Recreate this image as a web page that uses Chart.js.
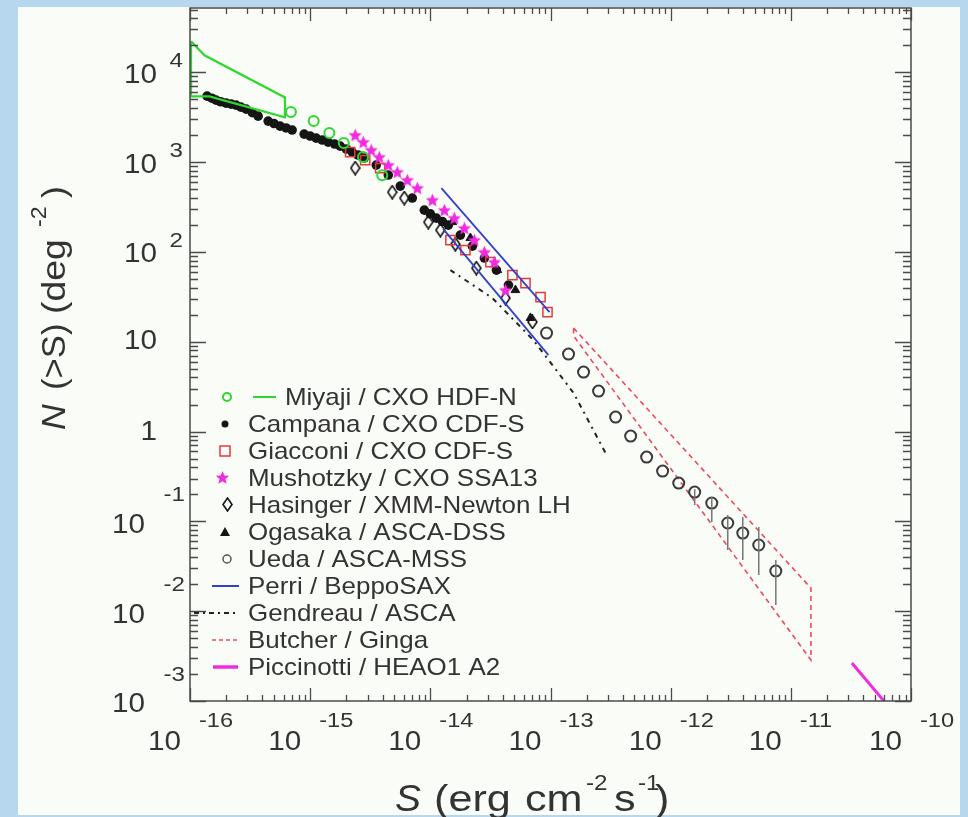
<!DOCTYPE html>
<html><head><meta charset="utf-8">
<script src="https://cdn.jsdelivr.net/npm/chart.js@4.4.1/dist/chart.umd.min.js"></script>
<style>html,body{margin:0;padding:0;background:#b7d7ee;}#wrap{width:968px;height:817px;}</style>
</head><body><div id="wrap"><canvas id="c" width="968" height="817"></canvas></div>
<script>
// ---------- data (S in erg cm^-2 s^-1, N(>S) in deg^-2) ----------
const miyajiS = [6.92e-16, 1.07e-15, 1.445e-15, 1.905e-15, 2.754e-15, 3.98e-15];
const miyajiN = [3606, 2864, 2104, 1629, 1138, 716];
const miyajiBandS = [1.02e-16, 1.32e-16, 6.17e-16, 6.17e-16, 1.45e-16, 1.02e-16, 1.02e-16];
const miyajiBandN = [22230, 15490, 5250, 3160, 5400, 5400, 22230];

const campanaS = [1.387e-16,1.52e-16,1.648e-16,1.8e-16,1.995e-16,2.2e-16,2.415e-16,2.65e-16,2.93e-16,3.3e-16,3.69e-16,4.47e-16,5.0e-16,5.62e-16,6.3e-16,7.08e-16,8.91e-16,
  1.0e-15,1.122e-15,1.26e-15,1.413e-15,1.6e-15,1.778e-15,2.0e-15,2.239e-15,2.5e-15,2.818e-15,3.548e-15,4.467e-15,5.623e-15,7.079e-15,8.913e-15,
  1.0e-14,1.122e-14,1.26e-14,1.413e-14,1.778e-14,2.239e-14,2.818e-14,3.548e-14,4.467e-14];
const campanaN = [5430,5150,4898,4700,4540,4420,4315,4100,3890,3550,3250,2864,2690,2518,2400,2275,2051,
  1950,1849,1760,1671,1590,1507,1400,1294,1200,1109,927,718,541,398,292,
  265,238,218,199,154,116,85.5,62.8,42.8];

const giacconiS = [2.153e-15,2.871e-15,3.828e-15,1.469e-14,1.959e-14,3.162e-14,4.819e-14,6.194e-14,8.26e-14,9.44e-14];
const giacconiN = [1294,1054,859,135.5,105,77.1,55.2,45.0,31.4,21.4];

const mushotzkyS = [2.371e-15,2.767e-15,3.221e-15,3.758e-15,4.467e-15,5.309e-15,6.427e-15,7.798e-15,
  1.04e-14,1.309e-14,1.585e-14,1.919e-14,2.328e-14,2.818e-14,3.412e-14,4.217e-14];
const mushotzkyN = [2000,1671,1361,1138,927,774,631,514,378,292,238,184,135.5,99.5,77.1,37.6];

const hasingerS = [2.371e-15,4.82e-15,6.067e-15,9.616e-15,1.211e-14,1.614e-14,2.415e-14,4.217e-14,7.079e-14];
const hasingerN = [859,463,398,215,175,122,66.1,30.6,16.6];

const ogasakaS = [1.524e-14,2.153e-14,3.614e-14,5.105e-14,6.808e-14];
const ogasakaN = [215,143,62.8,37.6,18.4];

const uedaS = [9.268e-14,1.413e-13,1.884e-13,2.512e-13,3.483e-13,4.645e-13,6.31e-13,8.57e-13,
  1.167e-12,1.585e-12,2.198e-12,2.985e-12,3.981e-12,5.408e-12,7.499e-12];
const uedaN = [12.5,7.29,4.59,2.82,1.45,0.891,0.52,0.363,0.267,0.212,0.160,0.0959,0.0741,0.0546,0.0280];
const uedaErrS  = [1.585e-12,2.198e-12,2.985e-12,3.981e-12,5.408e-12,7.499e-12];
const uedaErrHi = [0.23,0.187,0.118,0.112,0.0865,0.0372];
const uedaErrLo = [0.152,0.0984,0.048,0.0372,0.0253,0.0117];

const perriUpperS = [1.236e-14, 9.817e-14];
const perriUpperN = [514, 21.4];
const perriLowerS = [1.282e-14, 9.616e-14];
const perriLowerN = [179.5, 7.11];

const gendreauS = [1.469e-14,3.289e-14,7.211e-14,1.556e-13,2.871e-13];
const gendreauN = [62.8,30.6,10.4,2.69,0.577];

const butcherS = [1.556e-13,1.469e-11,1.469e-11,1.556e-13,1.556e-13];
const butcherN = [14.2,0.0181,0.00286,11.6,14.2];

const piccinottiS = [3.221e-11, 7.08e-11];
const piccinottiN = [0.00265, 0.000759];

const xDecades = [-16,-15,-14,-13,-12,-11,-10];
const yDecades = [-3,-2,-1,0,1,2,3,4];
const legendLabels = ['Miyaji / CXO HDF-N','Campana / CXO CDF-S','Giacconi / CXO CDF-S','Mushotzky / CXO SSA13',
  'Hasinger / XMM-Newton LH','Ogasaka / ASCA-DSS','Ueda / ASCA-MSS','Perri / BeppoSAX','Gendreau / ASCA',
  'Butcher / Ginga','Piccinotti / HEAO1 A2'];

// ---------- colours ----------
const GREEN='#2fd82f', BLACK='#151515', RED='#e43a3a', MAG='#f02be0', GREY='#3a3a3a', BLUE='#3440cc', PINK='#ec4a5a';

const zip = (S,N) => S.map((s,i)=>({x:s,y:N[i]}));

function makeStar(size,color){
  const c=document.createElement('canvas'); c.width=size; c.height=size; const g=c.getContext('2d');
  const cx=size/2, cy=size/2+0.5, R=size/2-0.5, r=R*0.45;
  g.beginPath();
  for(let i=0;i<10;i++){const a=-Math.PI/2+i*Math.PI/5; const rr=i%2?r:R; g.lineTo(cx+rr*Math.cos(a), cy+rr*Math.sin(a));}
  g.closePath(); g.fillStyle=color; g.fill(); return c;
}
function makeDiamond(w,h,color){
  const c=document.createElement('canvas'); c.width=w; c.height=h; const g=c.getContext('2d');
  g.beginPath(); g.moveTo(w/2,1); g.lineTo(w-1,h/2); g.lineTo(w/2,h-1); g.lineTo(1,h/2); g.closePath();
  g.strokeStyle=color; g.lineWidth=1.6; g.stroke(); return c;
}
const starImg = makeStar(15, MAG);
const diamondImg = makeDiamond(11, 15, BLACK);

const errData = [];
uedaErrS.forEach((s,i)=>{ errData.push({x:s,y:uedaErrLo[i]},{x:s,y:uedaErrHi[i]},{x:s,y:null}); });

const datasets = [
  {label:'Miyaji band', data:zip(miyajiBandS,miyajiBandN), showLine:true, borderColor:GREEN, borderWidth:2.2, pointRadius:0, fill:false},
  {label:'Miyaji', data:zip(miyajiS,miyajiN), pointStyle:'circle', pointRadius:5, borderColor:GREEN, borderWidth:2, backgroundColor:'rgba(0,0,0,0)'},
  {label:'Ueda err', data:errData, showLine:true, spanGaps:false, borderColor:'#777', borderWidth:1.5, pointRadius:0},
  {label:'Ueda', data:zip(uedaS,uedaN), pointStyle:'circle', pointRadius:5.5, borderColor:GREY, borderWidth:2, backgroundColor:'rgba(0,0,0,0)'},
  {label:'Perri up', data:zip(perriUpperS,perriUpperN), showLine:true, borderColor:BLUE, borderWidth:1.8, pointRadius:0},
  {label:'Perri low', data:zip(perriLowerS,perriLowerN), showLine:true, borderColor:BLUE, borderWidth:1.8, pointRadius:0},
  {label:'Gendreau', data:zip(gendreauS,gendreauN), showLine:true, borderColor:'#222', borderWidth:2, borderDash:[5,5,2,5], pointRadius:0},
  {label:'Butcher', data:zip(butcherS,butcherN), showLine:true, borderColor:PINK, borderWidth:1.6, borderDash:[5,4], pointRadius:0},
  {label:'Piccinotti', data:zip(piccinottiS,piccinottiN), showLine:true, borderColor:MAG, borderWidth:3, pointRadius:0},
  {label:'Mushotzky', data:zip(mushotzkyS,mushotzkyN), pointStyle:starImg, pointRadius:7},
  {label:'Giacconi', data:zip(giacconiS,giacconiN), pointStyle:'rect', pointRadius:6.5, borderColor:RED, borderWidth:1.5, backgroundColor:'rgba(0,0,0,0)'},
  {label:'Hasinger', data:zip(hasingerS,hasingerN), pointStyle:diamondImg, pointRadius:7},
  {label:'Ogasaka', data:zip(ogasakaS,ogasakaN), pointStyle:'triangle', pointRadius:5, borderColor:BLACK, backgroundColor:BLACK, borderWidth:1},
  {label:'Campana', data:zip(campanaS,campanaN), pointStyle:'circle', pointRadius:4.8, borderColor:BLACK, backgroundColor:BLACK, borderWidth:0}
];
datasets.forEach(d=>{ d.tension=0; if(d.fill===undefined) d.fill=false; });

const FONT='"Liberation Sans", Arial, Helvetica, sans-serif';
const TXT='#333';
function txt(ctx,str,x,y,size,align,baseline,sx,italic){
  ctx.save(); ctx.translate(x,y); ctx.scale(sx||1,1);
  ctx.font=(italic?'italic ':'')+size+'px '+FONT; ctx.textAlign=align; ctx.textBaseline=baseline;
  ctx.fillStyle=TXT; ctx.fillText(str,0,0); ctx.restore();
}

const decor = {
  id:'decor',
  beforeDraw(chart){
    const ctx=chart.ctx; ctx.save();
    ctx.fillStyle='#b7d7ee'; ctx.fillRect(0,0,chart.width,chart.height);
    ctx.fillStyle='#fafcf8'; ctx.fillRect(18,7,942,808);
    ctx.restore();
  },
  afterDraw(chart){
    const ctx=chart.ctx, a=chart.chartArea, xs=chart.scales.x, ys=chart.scales.y;
    ctx.save();
    // frame
    ctx.strokeStyle='#4a4a4a'; ctx.lineWidth=1.5;
    ctx.strokeRect(a.left,a.top,a.right-a.left,a.bottom-a.top);
    // x ticks
    ctx.beginPath();
    for(let n=-16;n<=-10;n++){ for(let m=1;m<=9;m++){ const v=m*Math.pow(10,n);
      if(v<xs.min*0.999||v>xs.max*1.001) continue;
      const p=Math.round(xs.getPixelForValue(v))+0.5; const L=(m===1)?13:6;
      ctx.moveTo(p,a.bottom); ctx.lineTo(p,a.bottom-L);
      ctx.moveTo(p,a.top); ctx.lineTo(p,a.top+L);
    }}
    // y ticks
    for(let n=-3;n<=4;n++){ for(let m=1;m<=9;m++){ const v=m*Math.pow(10,n);
      if(v<ys.min*0.999||v>ys.max*1.001) continue;
      const p=Math.round(ys.getPixelForValue(v))+0.5; const L=(m===1)?16:8;
      ctx.moveTo(a.left,p); ctx.lineTo(a.left+L,p);
      ctx.moveTo(a.right,p); ctx.lineTo(a.right-L,p);
    }}
    ctx.lineWidth=1.3; ctx.stroke();
    // x tick labels
    xDecades.forEach(n=>{ const p=xs.getPixelForValue(Math.pow(10,n));
      txt(ctx,'10',p-9,743,27,'right','middle',1.1);
      txt(ctx,String(n),p+9,721,20,'left','middle',1.18);
    });
    // y tick labels
    yDecades.forEach(n=>{ const p=ys.getPixelForValue(Math.pow(10,n));
      if(n===0){ txt(ctx,'1',157,p+1,27,'right','middle',1.1); }
      else if(n===1){ txt(ctx,'10',157,p,27,'right','middle',1.1); }
      else if(n>1){ txt(ctx,'10',157,p+3,27,'right','middle',1.1); txt(ctx,String(n),183,p-11,21,'right','middle',1.15); }
      else { txt(ctx,'10',145,p+4,27,'right','middle',1.1); txt(ctx,String(n),185,p-26,21,'right','middle',1.15); }
    });
    // x title
    txt(ctx,'S',395,811,36,'left','alphabetic',1.08,true);
    txt(ctx,'(erg',434,811,36,'left','alphabetic',1.2);
    txt(ctx,'cm',525,811,36,'left','alphabetic',1.2);
    txt(ctx,'-2',586,790,22,'left','alphabetic',1.1);
    txt(ctx,'s',614,811,36,'left','alphabetic',1.2);
    txt(ctx,'-1',638,790,22,'left','alphabetic',1.1);
    txt(ctx,')',655,811,36,'left','alphabetic',1.2);
    // y title (rotated)
    ctx.save(); ctx.translate(53,432); ctx.rotate(-Math.PI/2);
    txt(ctx,'N',2,12,34,'left','alphabetic',1.05,true);
    txt(ctx,'(>S)',42,12,34,'left','alphabetic',1.02);
    txt(ctx,'(deg',118,12,34,'left','alphabetic',1.1);
    txt(ctx,'-2',205,-7,22,'left','alphabetic',1.05);
    txt(ctx,')',234,12,34,'left','alphabetic',1.05);
    ctx.restore();
    // legend
    const y0=397, dy=27;
    const rowY=i=>y0+i*dy;
    legendLabels.forEach((lab,i)=>{ txt(ctx,lab,i===0?285:248,rowY(i)+1,24,'left','middle',1.08); });
    // symbols
    ctx.lineWidth=2; ctx.strokeStyle=GREEN; ctx.beginPath(); ctx.arc(227,rowY(0),4,0,Math.PI*2); ctx.stroke();
    ctx.beginPath(); ctx.moveTo(253,rowY(0)); ctx.lineTo(276,rowY(0)); ctx.stroke();
    ctx.fillStyle=BLACK; ctx.beginPath(); ctx.arc(225,rowY(1),3.5,0,Math.PI*2); ctx.fill();
    ctx.lineWidth=1.5; ctx.strokeStyle=RED; ctx.strokeRect(220,rowY(2)-5,10,10);
    ctx.drawImage(starImg,215,rowY(3)-8);
    ctx.drawImage(diamondImg,222,rowY(4)-8);
    ctx.fillStyle=BLACK; ctx.beginPath(); ctx.moveTo(225,rowY(5)-5); ctx.lineTo(230,rowY(5)+4); ctx.lineTo(220,rowY(5)+4); ctx.closePath(); ctx.fill();
    ctx.lineWidth=1.5; ctx.strokeStyle='#555'; ctx.beginPath(); ctx.arc(227,rowY(6),4,0,Math.PI*2); ctx.stroke();
    ctx.lineWidth=2; ctx.strokeStyle=BLUE; ctx.beginPath(); ctx.moveTo(212,rowY(7)); ctx.lineTo(239,rowY(7)); ctx.stroke();
    ctx.strokeStyle='#222'; ctx.setLineDash([5,4,2,4]); ctx.beginPath(); ctx.moveTo(194,rowY(8)); ctx.lineTo(239,rowY(8)); ctx.stroke();
    ctx.strokeStyle=PINK; ctx.lineWidth=1.5; ctx.setLineDash([4,3]); ctx.beginPath(); ctx.moveTo(212,rowY(9)); ctx.lineTo(239,rowY(9)); ctx.stroke();
    ctx.setLineDash([]); ctx.strokeStyle=MAG; ctx.lineWidth=3.5; ctx.beginPath(); ctx.moveTo(213,rowY(10)); ctx.lineTo(238,rowY(10)); ctx.stroke();
    ctx.restore();
  }
};

new Chart(document.getElementById('c'), {
  type:'scatter',
  data:{datasets},
  options:{
    responsive:false, animation:false, devicePixelRatio:1,
    layout:{padding:{left:190,right:57,top:8,bottom:116}},
    scales:{
      x:{type:'logarithmic', min:1e-16, max:1e-10, display:false},
      y:{type:'logarithmic', min:1e-3, max:5.2e4, display:false}
    },
    plugins:{legend:{display:false}, tooltip:{enabled:false}}
  },
  plugins:[decor]
});
</script></body></html>
